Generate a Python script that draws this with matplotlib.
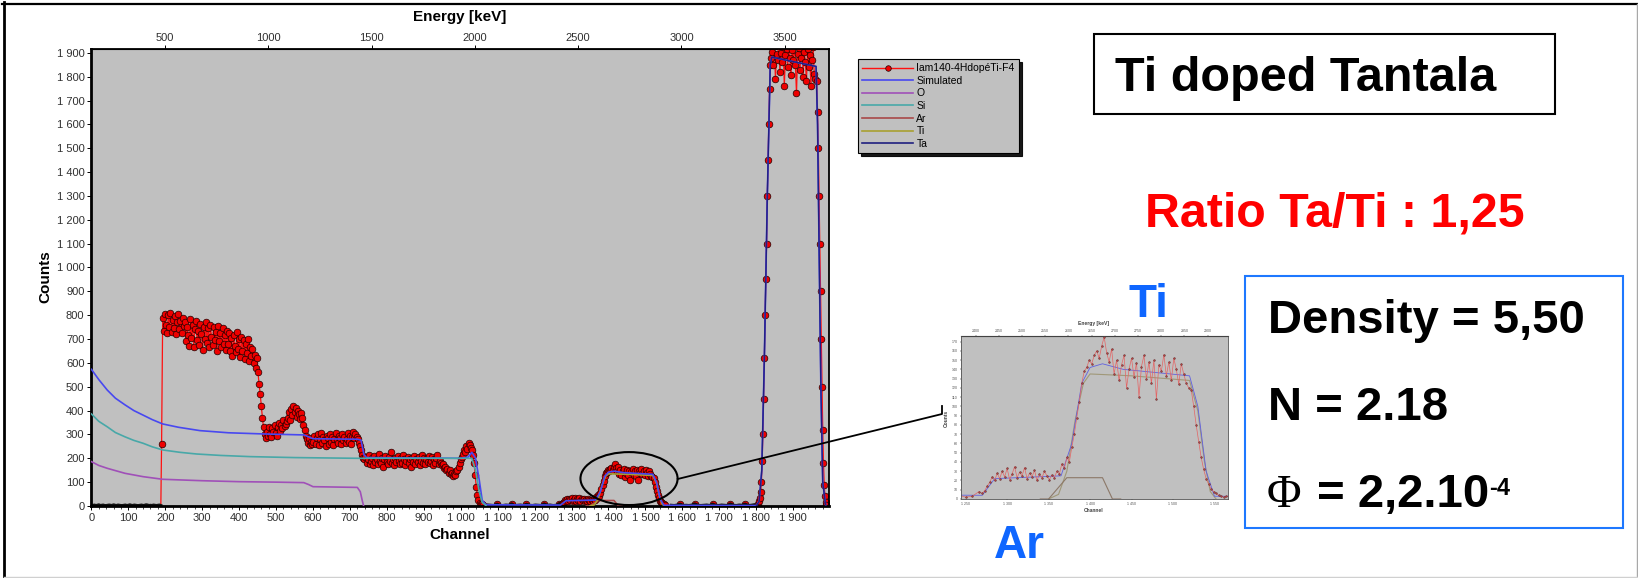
import matplotlib.pyplot as plt
import numpy as np
from matplotlib.patches import Ellipse, Rectangle
from matplotlib.lines import Line2D
from matplotlib.ticker import MultipleLocator, FuncFormatter

plt.rcParams['font.family'] = ['Liberation Sans', 'DejaVu Sans']

W, H = 1638, 578
def fx(x): return x / W
def fy(y): return 1 - y / H

# ---- experimental spectrum: (first channel, channel step, counts) ----
low_counts = [3, 2, 4, 2, 3, 5, 2, 3, 4, 2,
              2, 3, 4, 3, 2, 5, 3, 2, 4, 3,
              2, 2, 3, 4, 2, 3, 5, 3, 2, 4,
              3, 2, 2, 3, 4, 2, 3, 5, 4, 2,
              3, 2, 4, 3, 2, 3, 4, 2]                       # 0-188
film_counts = [
    258,
    790, 735, 805, 760, 725, 800, 750, 810, 730, 780,
    745, 795, 720, 770, 805, 740, 775, 725, 790, 755,     # 193-250
    770, 690, 750, 715, 670, 785, 705, 760, 665, 740,
    775, 695, 735, 675, 765, 720, 655, 750, 700, 770,
    685, 745, 665, 760, 710, 675, 750, 695, 730, 650,
    755, 690, 725, 665, 745, 680, 715, 655, 735, 680,     # 253-370
    725, 650, 705, 630, 715, 670, 645, 730, 660, 700,
    625, 710, 650, 695, 615, 680, 640, 700, 610, 665, 630,   # 373-433
    660, 600, 635, 580, 620,                              # 436-448
    560, 510, 470, 420, 370, 330, 300,                    # 451-469
    285, 310, 295, 330, 300, 290, 325, 310, 340, 305,
    295, 330, 350, 315, 340, 325, 360, 335, 345, 355,     # 472-529
    370, 395, 360, 405, 380, 420, 395, 410, 375, 400, 385, 365, 390,   # 532-568
    370, 340, 320, 295, 280, 265, 285, 255, 270, 260,     # 571-598
    270, 295, 260, 285, 300, 255, 280, 305, 265, 290,
    275, 250, 295, 285, 260, 300, 270, 290, 255, 280,
    305, 275, 265, 295, 285, 260, 300, 275, 290, 265,
    280, 305, 270, 295, 260, 290, 310, 285, 300, 290,     # 601-718
    280, 265, 250, 235, 215, 200, 195,                    # 721-739
    205, 180, 195, 215, 175, 190, 200, 170, 210, 185,
    195, 175, 220, 190, 180, 200, 165, 195, 210, 185,
    175, 205, 190, 225, 180, 195, 170, 200, 185, 210,
    190, 175, 200, 180, 215, 195, 170, 190, 205, 180,
    195, 165, 200, 185, 210, 175, 195, 185, 205, 170,
    190, 215, 180, 200, 175, 195, 185, 210, 180, 190,
    205, 170, 195, 180, 200, 215, 175, 190, 180, 170,     # 742-949
    175, 160, 165, 150, 155, 140, 150, 135, 140, 125, 135, 130, 145,   # 952-988
    150, 165, 180, 195, 205, 220, 235, 225, 250, 240, 265, 255, 245, 235,  # 991-1030
    215, 180, 130, 80, 45, 25, 14, 10, 7, 6, 5, 4, 5]     # 1033-1069
gap1_counts = [4, 3, 2, 8, 3, 2, 4, 3, 9, 2, 3, 4, 2, 8, 3, 2, 4, 3, 2, 9,
               3, 4, 2, 3, 8]                                # 1074-1266
ar_counts = [6, 9, 14, 18, 24, 20, 28, 22, 30, 24,
             33, 21, 27, 35, 23, 29, 25, 34, 22, 28,
             24, 31, 20, 27, 23, 30, 25, 21, 26, 23,
             30, 27, 38, 33]                                 # 1270-1369
ti_counts = [45, 40, 56, 70, 88, 105, 125, 138, 142, 150,
             146, 155, 160, 152, 165, 175, 158, 148, 162, 135,
             150, 128, 145, 155, 120, 140, 152, 132, 147, 110,
             143, 155, 130, 148, 125, 150, 108, 145, 138, 156,
             133, 148, 128, 152, 140, 124, 146, 135, 125, 120,
             118, 100, 80, 62, 45, 32, 22, 16, 11, 8,
             6, 4, 3, 2, 3]                                  # 1372-1564
gap2_counts = [3, 2, 4, 8, 2, 3, 2, 4, 9, 3, 2, 3, 4, 2, 8, 3, 2, 4, 3, 2,
               9, 3, 2, 4, 3, 8, 2, 3, 5]                    # 1570-1794
ta_rise_counts = [5, 10, 20, 35, 60, 100, 190, 300, 450, 620,
                  800, 950, 1100, 1300, 1450, 1600, 1750, 1850]   # 1804-1838
ta_top_counts = [1880, 1905, 1850, 1930, 1790, 1895, 1870, 1940, 1820, 1900,
                 1860, 1925, 1760, 1890, 1915, 1840, 1950, 1880, 1805, 1910,
                 1870, 1935, 1850, 1730, 1895, 1920, 1830, 1880, 1945, 1800,
                 1905, 1860, 1780, 1915, 1840, 1890, 1760, 1870, 1925, 1810,
                 1790]                                       # 1840-1960
ta_fall_counts = [1780, 1650, 1500, 1300, 1100, 900, 700, 500, 320, 180,
                  90, 40, 15, 6]                             # 1964-1990

segments = [(0, 4, low_counts), (190, 3, film_counts), (1074, 8, gap1_counts),
            (1270, 3, ar_counts), (1372, 3, ti_counts), (1570, 8, gap2_counts),
            (1804, 2, ta_rise_counts), (1840, 3, ta_top_counts),
            (1964, 2, ta_fall_counts)]
exp_ch = np.concatenate([s + st * np.arange(len(v)) for s, st, v in segments])
exp_cnt = np.concatenate([np.array(v, float) for _, _, v in segments])
quiet = [(s, st, v) for s, st, v in segments if max(v) < 10]   # near-empty channels

# ---- simulated curves (read-off points) ----
sim_ch = [0, 20, 43, 65, 91, 115, 140, 165, 193, 236, 294, 371, 468, 575, 588, 600,
          720, 730, 738, 745, 1000, 1020, 1030, 1040, 1050, 1058, 1068, 1270, 1285,
          1365, 1378, 1390, 1400, 1415, 1440, 1520, 1530, 1540, 1550, 1800, 1808,
          1815, 1822, 1830, 1838, 1842, 1962, 1966, 1970, 1975, 1980, 1988]
sim_cnt = [573, 530, 486, 452, 424, 400, 381, 362, 344, 330, 316, 307, 302, 298, 290, 282,
           280, 276, 215, 203, 200, 205, 225, 200, 110, 25, 5, 4, 22,
           25, 60, 125, 142, 146, 140, 133, 100, 30, 3, 2, 20,
           150, 620, 1300, 1850, 1882, 1843, 1600, 1100, 500, 100, 5]
o_ch = [0, 20, 43, 91, 140, 193, 300, 400, 500, 575, 588, 600, 720, 728, 733, 737]
o_cnt = [186, 170, 158, 137, 123, 112, 106, 102, 100, 98, 90, 81, 78, 60, 25, 0]
si_ch = [0, 20, 43, 65, 91, 115, 140, 165, 193, 240, 285, 350, 430, 550, 720,
         1030, 1040, 1050, 1058, 1068]
si_cnt = [386, 355, 332, 308, 290, 275, 263, 248, 235, 225, 218, 212, 207, 203, 200,
          200, 150, 60, 15, 2]
ar_ch = [1340, 1350, 1372, 1415, 1427, 1437]
ar_cnt = [0, 0, 23, 23, 0, 0]
ti_ch = [1350, 1362, 1372, 1382, 1392, 1400, 1450, 1520, 1530, 1538, 1545, 1552]
ti_cnt = [0, 5, 30, 85, 125, 135, 133, 128, 95, 40, 8, 0]
ta_ch = [1800, 1808, 1815, 1822, 1830, 1838, 1842, 1962, 1966, 1970, 1975, 1980, 1988]
ta_cnt = [0, 20, 150, 620, 1300, 1850, 1882, 1843, 1600, 1100, 500, 100, 0]

E_GAIN, E_OFFSET = 1.7877, 143.9
energy_ticks = [500, 1000, 1500, 2000, 2500, 3000, 3500]
inset_energy_ticks = list(range(2400, 2901, 50))
legend_labels = ['Iam140-4HdopéTi-F4', 'Simulated', 'O', 'Si', 'Ar', 'Ti', 'Ta']

RED = '#FF1010'; SIMC = '#4848F0'; OC = '#A050B8'; SIC = '#48A8A8'
ARC = '#A84848'; TIC = '#A8A030'; TAC = '#202080'; GRAY = '#C0C0C0'
BLUE2 = '#0F66FF'; DARK = '#303030'

def ch2e(c): return E_GAIN * np.asarray(c) + E_OFFSET
def e2ch(e): return (np.asarray(e) - E_OFFSET) / E_GAIN
def spaced(v, p): return f'{int(round(v)):,}'.replace(',', ' ')

fig = plt.figure(figsize=(W / 100, H / 100), dpi=100, facecolor='white')

# ---- main spectrum ----
ax = fig.add_axes([fx(91.4), fy(506), (829 - 91.4) / W, (506 - 49) / H])
ax.set_facecolor(GRAY)
ax.plot(exp_ch, exp_cnt, color=RED, lw=0.9, marker='o', ms=4.8, mfc='#EE0000',
        mec='#200000', mew=0.5, markevery=list(exp_cnt >= 6), zorder=2)
for s, st, v in quiet:
    ax.plot(s + st * np.arange(len(v)), v, color='#101010', lw=2.2, zorder=2.5)
ax.plot(o_ch, o_cnt, color=OC, lw=1.2, zorder=3)
ax.plot(ar_ch, ar_cnt, color=ARC, lw=1.2, zorder=3)
ax.plot(ti_ch, ti_cnt, color=TIC, lw=1.2, zorder=3)
ax.plot(sim_ch, sim_cnt, color=SIMC, lw=1.2, zorder=3)
ax.plot(si_ch, si_cnt, color=SIC, lw=1.2, zorder=3.2)
ax.plot(ta_ch, ta_cnt, color=TAC, lw=1.0, zorder=3)
ax.set_xlim(0, 1997)
ax.set_ylim(0, 1916)
ax.xaxis.set_major_locator(MultipleLocator(100))
ax.xaxis.set_minor_locator(MultipleLocator(20))
ax.yaxis.set_major_locator(MultipleLocator(100))
ax.xaxis.set_major_formatter(FuncFormatter(spaced))
ax.yaxis.set_major_formatter(FuncFormatter(spaced))
ax.tick_params(labelsize=8, labelcolor=DARK, length=3, width=0.7, pad=2)
ax.tick_params(which='minor', length=2, width=0.5)
for sp, lw in [('left', 2), ('bottom', 2), ('top', 1.3), ('right', 1.3)]:
    ax.spines[sp].set_linewidth(lw)
top = ax.secondary_xaxis('top', functions=(ch2e, e2ch))
top.set_xticks(energy_ticks)
top.tick_params(labelsize=8, labelcolor=DARK, length=3, width=0.7, pad=1)

fig.text(fx(460), fy(16.7), 'Energy [keV]', ha='center', va='center', fontsize=11, fontweight='bold')
fig.text(fx(460), fy(535), 'Channel', ha='center', va='center', fontsize=11, fontweight='bold')
fig.text(fx(45.7), fy(277), 'Counts', ha='center', va='center', rotation=90, fontsize=11, fontweight='bold')

ax.add_patch(Ellipse((1455.6, 115), 263, 222, fill=False, ec='black', lw=1.5,
                     clip_on=False, zorder=5))

handles = [Line2D([], [], color=RED, lw=1, marker='o', ms=4, mfc='#EE0000', mec='#200000', mew=0.5),
           Line2D([], [], color=SIMC, lw=1.2), Line2D([], [], color=OC, lw=1.2),
           Line2D([], [], color=SIC, lw=1.2), Line2D([], [], color=ARC, lw=1.2),
           Line2D([], [], color=TIC, lw=1.2), Line2D([], [], color=TAC, lw=1.2)]
leg = fig.legend(handles, legend_labels, loc='upper left', bbox_to_anchor=(fx(858), fy(59)),
                 borderaxespad=0, fontsize=7.5, handlelength=4.9, handletextpad=0.3,
                 labelspacing=0.25, borderpad=0.4, numpoints=1, fancybox=False,
                 facecolor=GRAY, framealpha=1, edgecolor='black',
                 shadow={'color': 'black', 'alpha': 0.9})
leg.get_frame().set_linewidth(0.8)

# ---- zoomed inset ----
axin = fig.add_axes([fx(960.7), fy(499), 267 / W, 163 / H])
axin.set_facecolor(GRAY)
axin.plot(exp_ch, exp_cnt, color='#E46464', lw=0.5, marker='o', ms=1.3,
          mfc='#B04040', mec='#5A2A2A', mew=0.3, zorder=2)
axin.plot(ar_ch, ar_cnt, color='#8C7868', lw=0.8, zorder=3)
axin.plot(ti_ch, ti_cnt, color='#A09878', lw=0.8, zorder=1.5)
axin.plot(sim_ch, sim_cnt, color='#6060E0', lw=0.6, zorder=1.8)
axin.set_xlim(1244, 1566)
axin.set_ylim(0, 176)
axin.xaxis.set_major_locator(MultipleLocator(50))
axin.yaxis.set_major_locator(MultipleLocator(10))
axin.xaxis.set_major_formatter(FuncFormatter(spaced))
axin.tick_params(labelsize=2.6, labelcolor='#555555', length=1, width=0.3, pad=1)
for sp in axin.spines.values():
    sp.set_linewidth(0.6); sp.set_color('#505050')
itop = axin.secondary_xaxis('top', functions=(ch2e, e2ch))
itop.set_xticks(inset_energy_ticks)
itop.tick_params(labelsize=2.6, labelcolor='#555555', length=1, width=0.3, pad=1)
fig.text(fx(1094), fy(323), 'Energy [keV]', ha='center', va='center', fontsize=3.6, fontweight='bold', color='#404040')
fig.text(fx(1094), fy(510), 'Channel', ha='center', va='center', fontsize=3.6, fontweight='bold', color='#404040')
fig.text(fx(946), fy(418), 'Counts', ha='center', va='center', rotation=90, fontsize=3.6, fontweight='bold', color='#404040')

# connector from ellipse to inset
fig.add_artist(Line2D([fx(677.7), fx(942), fx(942)], [fy(479), fy(414), fy(406)],
                      transform=fig.transFigure, color='black', lw=1.3))

# ---- annotations ----
fig.text(fx(1148.5), fy(316.7), 'Ti', ha='center', va='baseline', color=BLUE2, fontsize=33, fontweight='bold')
fig.text(fx(1019), fy(558), 'Ar', ha='center', va='baseline', color=BLUE2, fontsize=33, fontweight='bold')

fig.add_artist(Rectangle((fx(1093.6), fy(113.5)), (1555 - 1093.6) / W, (113.5 - 34) / H,
                         transform=fig.transFigure, fill=False, ec='black', lw=1.5))
fig.text(fx(1115), fy(91.4), 'Ti doped Tantala', ha='left', va='baseline', fontsize=35, fontweight='bold')
fig.text(fx(1334.5), fy(226.7), 'Ratio Ta/Ti : 1,25', ha='center', va='baseline', color='#FF0000',
         fontsize=34.8, fontweight='bold')

fig.add_artist(Rectangle((fx(1245), fy(528)), (1623 - 1245) / W, (528 - 276) / H,
                         transform=fig.transFigure, fill=False, ec='#1E78FF', lw=1.5))
fig.text(fx(1268), fy(333), 'Density = 5,50', ha='left', va='baseline', fontsize=34, fontweight='bold')
fig.text(fx(1268), fy(420), 'N = 2.18', ha='left', va='baseline', fontsize=34, fontweight='bold')
fig.text(fx(1267), fy(507), 'Φ', ha='left', va='baseline', fontsize=34,
         family=['Liberation Serif', 'DejaVu Serif'])
fig.text(fx(1317), fy(507), '= 2,2.10', ha='left', va='baseline', fontsize=34, fontweight='bold')
fig.text(fx(1489), fy(495), '-4', ha='left', va='baseline', fontsize=17, fontweight='bold')

# ---- slide frame ----
for xs, ys, c, lw in [([4, 4], [2, 578], 'black', 2), ([2, 1638], [4, 4], 'black', 1.6),
                      ([1636.5, 1636.5], [4, 578], '#A8A8A8', 1), ([4, 1638], [576.5, 576.5], '#D0D0D0', 1)]:
    fig.add_artist(Line2D([fx(v) for v in xs], [fy(v) for v in ys], transform=fig.transFigure,
                          color=c, lw=lw))

fig.savefig('out.png', dpi=100, facecolor='white')
plt.close(fig)
